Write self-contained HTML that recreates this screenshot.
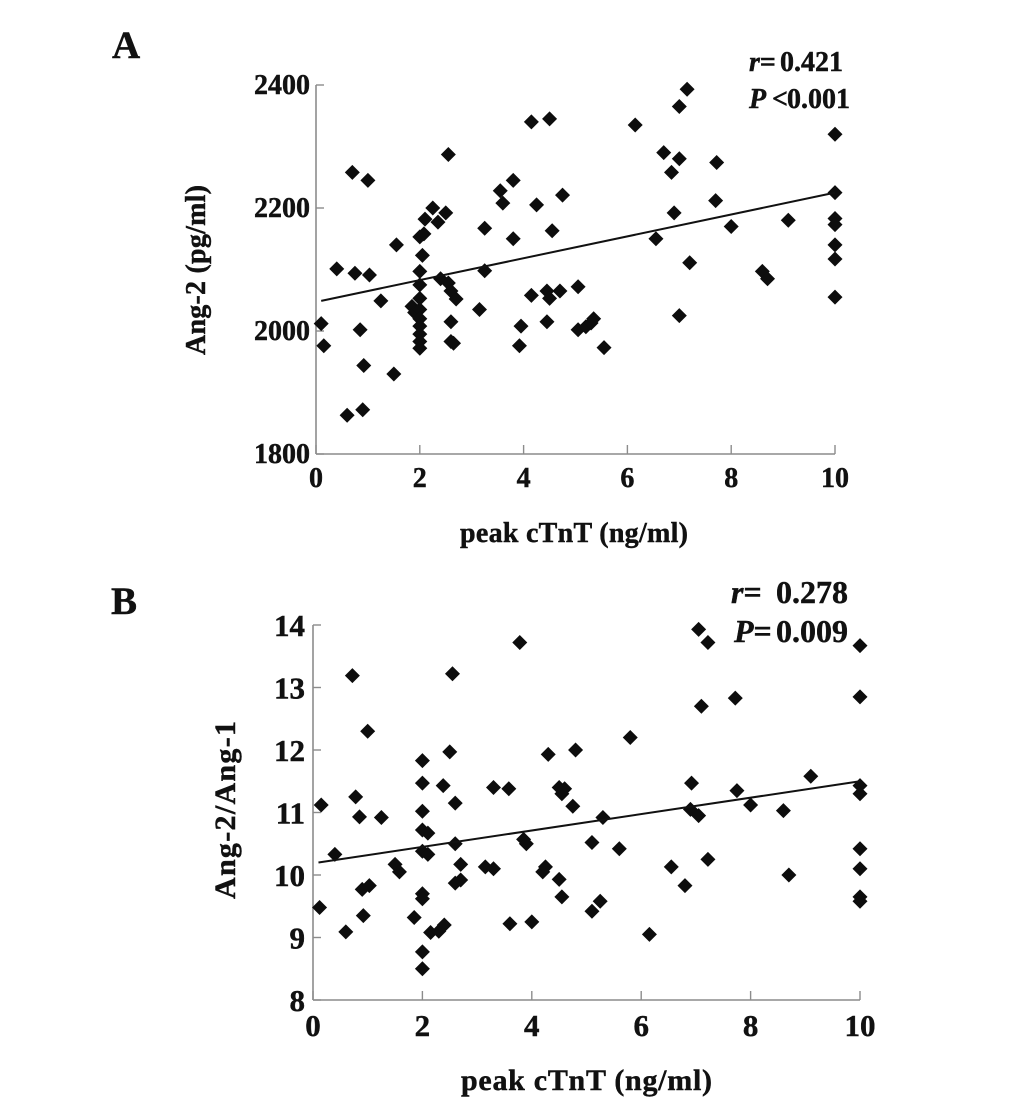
<!DOCTYPE html>
<html lang="en">
<head>
<meta charset="utf-8">
<title>Ang-2 and Ang-2/Ang-1 versus peak cTnT</title>
<style>
html,body{margin:0;padding:0;background:#fff;width:1033px;height:1111px;overflow:hidden}
svg{display:block;font-family:"Liberation Serif",serif;font-weight:bold;fill:#111}
svg text{stroke:#111;stroke-width:.45px}
</style>
</head>
<body>
<svg id="figure" width="1033" height="1111" viewBox="0 0 1033 1111" xmlns="http://www.w3.org/2000/svg">
<rect width="1033" height="1111" fill="#fff"/>
<text x="112" y="58" font-size="39">A</text>
<text x="111" y="614" font-size="39">B</text>
<text x="749" y="71" font-size="28"><tspan font-style="italic">r</tspan>=<tspan x="780">0.421</tspan></text>
<text x="749" y="108" font-size="28"><tspan font-style="italic">P</tspan><tspan x="772">&lt;</tspan><tspan x="787">0.001</tspan></text>
<text x="731" y="603" font-size="32"><tspan font-style="italic">r</tspan>=<tspan x="776">0.278</tspan></text>
<text x="734" y="642" font-size="32"><tspan font-style="italic">P</tspan>=<tspan x="776">0.009</tspan></text>
<text x="460" y="542" font-size="28" textLength="228">peak cTnT (ng/ml)</text>
<text x="461" y="1090" font-size="30" textLength="251">peak cTnT (ng/ml)</text>
<text transform="translate(205,355) rotate(-90)" font-size="28" textLength="170">Ang-2 (pg/ml)</text>
<text transform="translate(235,899) rotate(-90)" font-size="30" textLength="178">Ang-2/Ang-1</text>
<g id="panel-a"></g>
<g id="panel-b"></g>
</svg>
<script>
const xTicks = [0, 2, 4, 6, 8, 10];
const yTicksA = [1800, 2000, 2200, 2400];
const yTicksB = [8, 9, 10, 11, 12, 13, 14];

const peakA = [0.1,0.15,0.4,0.6,0.7,0.75,0.85,0.9,0.92,1.0,1.03,1.25,1.5,1.55,1.85,1.9,2,2,2,2,2,2,2,2,2,2.0,2.05,2.08,2.1,2.25,2.35,2.4,2.5,2.55,2.55,2.6,2.6,2.6,2.65,2.7,3.15,3.25,3.25,3.55,3.6,3.8,3.8,3.92,3.95,4.15,4.15,4.25,4.45,4.45,4.5,4.5,4.55,4.7,4.75,5.05,5.05,5.2,5.3,5.35,5.55,6.15,6.55,6.7,6.85,6.9,7.0,7.0,7.0,7.15,7.2,7.7,7.72,8.0,8.6,8.7,9.1,10,10,10,10,10,10,10];
const ang2 = [2012,1976,2101,1863,2258,2094,2002,1872,1944,2245,2091,2049,1930,2140,2040,2030,2097,2075,2053,2035,2020,2008,1995,1983,1972,2153,2123,2158,2182,2200,2177,2085,2192,2287,2078,2065,2015,1983,1980,2052,2035,2167,2098,2228,2208,2245,2150,1976,2008,2340,2058,2205,2065,2015,2345,2053,2163,2065,2221,2002,2072,2007,2013,2020,1973,2335,2150,2290,2258,2192,2280,2365,2025,2393,2111,2212,2274,2170,2097,2085,2180,2320,2225,2183,2173,2140,2117,2055];
const fitXA = [0.1, 10];
const fitYA = [2049, 2225];

const peakB = [0.15,0.12,0.4,0.6,0.72,0.78,0.85,0.9,0.92,1.0,1.03,1.25,1.5,1.58,1.85,2,2,2,2,2,2,2,2,2,2.1,2.1,2.15,2.3,2.4,2.38,2.5,2.55,2.6,2.6,2.6,2.7,2.7,3.15,3.3,3.3,3.58,3.6,3.78,3.85,3.9,4.0,4.2,4.25,4.3,4.5,4.5,4.55,4.55,4.6,4.75,4.8,5.1,5.1,5.25,5.3,5.6,5.8,6.15,6.55,6.8,6.9,6.92,7.05,7.05,7.1,7.22,7.22,7.72,7.75,8.0,8.6,8.7,9.1,10,10,10,10,10,10,10,10];
const ratio = [11.12,9.48,10.33,9.09,13.19,11.25,10.93,9.77,9.35,12.3,9.83,10.92,10.17,10.05,9.32,11.83,11.47,11.02,10.72,10.38,9.7,9.62,8.77,8.5,10.67,10.33,9.08,9.1,9.2,11.43,11.97,13.22,11.15,10.5,9.87,9.92,10.17,10.13,11.4,10.1,11.38,9.22,13.72,10.57,10.5,9.25,10.05,10.13,11.93,9.93,11.4,11.3,9.65,11.38,11.1,12.0,10.52,9.42,9.58,10.92,10.42,12.2,9.05,10.13,9.83,11.05,11.47,13.93,10.95,12.7,13.72,10.25,12.83,11.35,11.12,11.03,10.0,11.58,13.67,12.85,11.43,11.3,10.42,10.1,9.65,9.58];
const fitXB = [0.1, 10];
const fitYB = [10.2, 11.5];

const NS = 'http://www.w3.org/2000/svg';

function make(parent, tag, attrs, text) {
  const el = document.createElementNS(NS, tag);
  for (const k in attrs) el.setAttribute(k, attrs[k]);
  if (text !== undefined) el.textContent = text;
  parent.appendChild(el);
  return el;
}

function drawPanel(g, o) {
  const sx = v => o.left + (v - o.xMin) / (o.xMax - o.xMin) * (o.right - o.left);
  const sy = v => o.bottom - (v - o.yMin) / (o.yMax - o.yMin) * (o.bottom - o.top);

  const yAxis = make(g, 'line', {x1: o.left, y1: o.top, x2: o.left, y2: o.bottom, stroke: '#8c8c8c', 'stroke-width': 1.6});
  
  
  const xAxis = make(g, 'line', {x1: o.left, y1: o.bottom, x2: o.right, y2: o.bottom, stroke: '#8c8c8c', 'stroke-width': 1.6});
  
  

  o.xTicks.forEach(t => {
    const tick = make(g, 'line', {x1: sx(t), y1: o.bottom, x2: sx(t), y2: o.bottom - 9, stroke: '#8c8c8c', 'stroke-width': 1.4});
    
    
    const label = make(g, 'text', {x: sx(t), y: o.bottom + o.xLabelDy, 'font-size': o.tickSize, 'text-anchor': 'middle'}, String(t));
    
    
  });

  o.yTicks.forEach(t => {
    const tick = make(g, 'line', {x1: o.left, y1: sy(t), x2: o.left + 8, y2: sy(t), stroke: '#8c8c8c', 'stroke-width': 1.4});
    
    
    const label = make(g, 'text', {x: o.left - o.yLabelDx, y: sy(t) + o.yLabelDy, 'font-size': o.tickSize, 'text-anchor': 'end'}, String(t));
    
    
  });

  o.xs.forEach((x, i) => {
    const px = sx(x), py = sy(o.ys[i]), r = 7.5;
    const pt = make(g, 'polygon', {points: `${px},${py - r} ${px + r},${py} ${px},${py + r} ${px - r},${py}`, fill: '#0d0d0d'});
    
    
  });

  const fit = make(g, 'line', {x1: sx(o.fitX[0]), y1: sy(o.fitY[0]), x2: sx(o.fitX[1]), y2: sy(o.fitY[1]), stroke: '#111', 'stroke-width': 2});
  
  
}

drawPanel(document.getElementById('panel-a'), {
  left: 316, right: 835, top: 85, bottom: 454,
  xMin: 0, xMax: 10, yMin: 1800, yMax: 2400,
  xTicks: xTicks, yTicks: yTicksA, xs: peakA, ys: ang2, fitX: fitXA, fitY: fitYA,
  tickSize: 28, xLabelDy: 33, yLabelDx: 6, yLabelDy: 9
});
drawPanel(document.getElementById('panel-b'), {
  left: 313, right: 860, top: 625, bottom: 1000,
  xMin: 0, xMax: 10, yMin: 8, yMax: 14,
  xTicks: xTicks, yTicks: yTicksB, xs: peakB, ys: ratio, fitX: fitXB, fitY: fitYB,
  tickSize: 31, xLabelDy: 36, yLabelDx: 8, yLabelDy: 11
});
</script>
</body>
</html>
